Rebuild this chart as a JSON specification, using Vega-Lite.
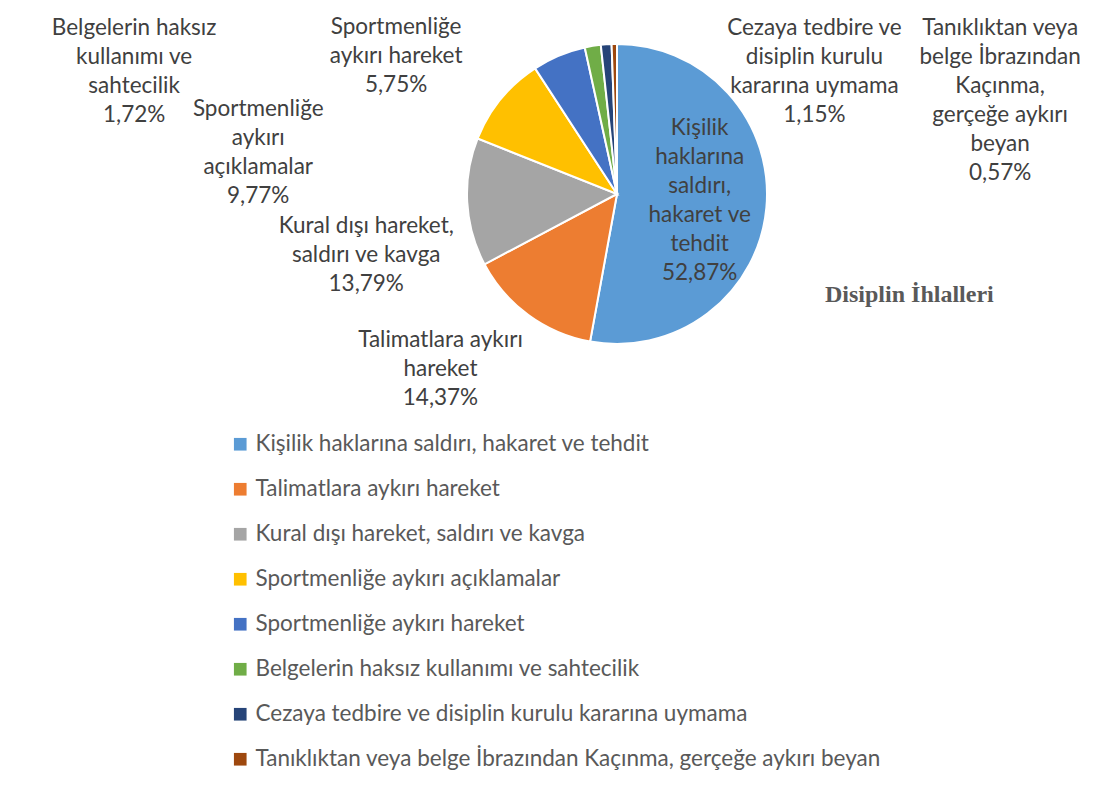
{
  "$schema": "https://vega.github.io/schema/vega-lite/v6.json",
  "width": 972,
  "height": 388,
  "autosize": {"type": "none"},
  "padding": {"left": 131, "top": 0, "right": 0, "bottom": 408},
  "background": "white",
  "title": {
    "text": "Disiplin İhlalleri",
    "orient": "top",
    "anchor": "start",
    "frame": "group",
    "font": "Liberation Serif",
    "fontWeight": "bold",
    "fontSize": 24,
    "color": "#595959",
    "baseline": "middle",
    "offset": 0,
    "dx": 694,
    "dy": 319
  },
  "data": {
    "values": [
      {"i": 1, "k": "Kişilik haklarına saldırı, hakaret ve tehdit", "n": 92, "lab": "Kişilik\nhaklarına\nsaldırı,\nhakaret ve\ntehdit\n52,87%"},
      {"i": 2, "k": "Talimatlara aykırı hareket", "n": 25, "lab": "Talimatlara aykırı\nhareket\n14,37%"},
      {"i": 3, "k": "Kural dışı hareket, saldırı ve kavga", "n": 24, "lab": "Kural dışı hareket,\nsaldırı ve kavga\n13,79%"},
      {"i": 4, "k": "Sportmenliğe aykırı açıklamalar", "n": 17, "lab": "Sportmenliğe\naykırı\naçıklamalar\n9,77%"},
      {"i": 5, "k": "Sportmenliğe aykırı hareket", "n": 10, "lab": "Sportmenliğe\naykırı hareket\n5,75%"},
      {"i": 6, "k": "Belgelerin haksız kullanımı ve sahtecilik", "n": 3, "lab": "Belgelerin haksız\nkullanımı ve\nsahtecilik\n1,72%"},
      {"i": 7, "k": "Cezaya tedbire ve disiplin kurulu kararına uymama", "n": 2, "lab": "Cezaya tedbire ve\ndisiplin kurulu\nkararına uymama\n1,15%"},
      {"i": 8, "k": "Tanıklıktan veya belge İbrazından Kaçınma, gerçeğe aykırı beyan", "n": 1, "lab": "Tanıklıktan veya\nbelge İbrazından\nKaçınma,\ngerçeğe aykırı\nbeyan\n0,57%"}
    ]
  },
  "encoding": {
    "theta": {"field": "n", "type": "quantitative", "stack": true},
    "order": {"field": "i", "type": "quantitative"}
  },
  "layer": [
    {
      "mark": {"type": "arc", "outerRadius": 150, "stroke": "white", "strokeWidth": 2},
      "encoding": {
        "color": {
          "field": "k",
          "type": "nominal",
          "scale": {
            "domain": [
              "Kişilik haklarına saldırı, hakaret ve tehdit",
              "Talimatlara aykırı hareket",
              "Kural dışı hareket, saldırı ve kavga",
              "Sportmenliğe aykırı açıklamalar",
              "Sportmenliğe aykırı hareket",
              "Belgelerin haksız kullanımı ve sahtecilik",
              "Cezaya tedbire ve disiplin kurulu kararına uymama",
              "Tanıklıktan veya belge İbrazından Kaçınma, gerçeğe aykırı beyan"
            ],
            "range": ["#5B9BD5", "#ED7D31", "#A5A5A5", "#FFC000", "#4472C4", "#70AD47", "#264478", "#9E480E"]
          },
          "legend": {
            "orient": "none",
            "legendX": 98,
            "legendY": 433,
            "title": null,
            "symbolType": "square",
            "symbolSize": 160,
            "symbolStrokeWidth": 0,
            "labelFont": "Lato",
            "labelFontSize": 22.5,
            "labelColor": "#595959",
            "labelLimit": 0,
            "labelOffset": 4,
            "rowPadding": 22,
            "padding": 0
          }
        }
      }
    },
    {
      "mark": {"type": "text", "radius": 83, "dx": 0, "dy": -73.5, "font": "Lato", "fontSize": 22.5, "fill": "#404040", "lineBreak": "\n", "lineHeight": 29, "align": "center", "baseline": "middle"},
      "encoding": {"text": {"condition": {"test": "datum.i === 1", "field": "lab"}, "value": ""}}
    },
    {
      "mark": {"type": "text", "radius": 160, "dx": -82, "dy": 17, "font": "Lato", "fontSize": 22.5, "fill": "#404040", "lineBreak": "\n", "lineHeight": 29, "align": "center", "baseline": "middle"},
      "encoding": {"text": {"condition": {"test": "datum.i === 2", "field": "lab"}, "value": ""}}
    },
    {
      "mark": {"type": "text", "radius": 160, "dx": -91, "dy": 23, "font": "Lato", "fontSize": 22.5, "fill": "#404040", "lineBreak": "\n", "lineHeight": 29, "align": "center", "baseline": "middle"},
      "encoding": {"text": {"condition": {"test": "datum.i === 3", "field": "lab"}, "value": ""}}
    },
    {
      "mark": {"type": "text", "radius": 160, "dx": -235, "dy": 16.5, "font": "Lato", "fontSize": 22.5, "fill": "#404040", "lineBreak": "\n", "lineHeight": 29, "align": "center", "baseline": "middle"},
      "encoding": {"text": {"condition": {"test": "datum.i === 4", "field": "lab"}, "value": ""}}
    },
    {
      "mark": {"type": "text", "radius": 160, "dx": -159, "dy": -19, "font": "Lato", "fontSize": 22.5, "fill": "#404040", "lineBreak": "\n", "lineHeight": 29, "align": "center", "baseline": "middle"},
      "encoding": {"text": {"condition": {"test": "datum.i === 5", "field": "lab"}, "value": ""}}
    },
    {
      "mark": {"type": "text", "radius": 160, "dx": -457, "dy": -8.5, "font": "Lato", "fontSize": 22.5, "fill": "#404040", "lineBreak": "\n", "lineHeight": 29, "align": "center", "baseline": "middle"},
      "encoding": {"text": {"condition": {"test": "datum.i === 6", "field": "lab"}, "value": ""}}
    },
    {
      "mark": {"type": "text", "radius": 160, "dx": 209, "dy": -6.5, "font": "Lato", "fontSize": 22.5, "fill": "#404040", "lineBreak": "\n", "lineHeight": 29, "align": "center", "baseline": "middle"},
      "encoding": {"text": {"condition": {"test": "datum.i === 7", "field": "lab"}, "value": ""}}
    },
    {
      "mark": {"type": "text", "radius": 160, "dx": 386, "dy": -6.5, "font": "Lato", "fontSize": 22.5, "fill": "#404040", "lineBreak": "\n", "lineHeight": 29, "align": "center", "baseline": "middle"},
      "encoding": {"text": {"condition": {"test": "datum.i === 8", "field": "lab"}, "value": ""}}
    }
  ],
  "config": {"view": {"stroke": null}}
}
